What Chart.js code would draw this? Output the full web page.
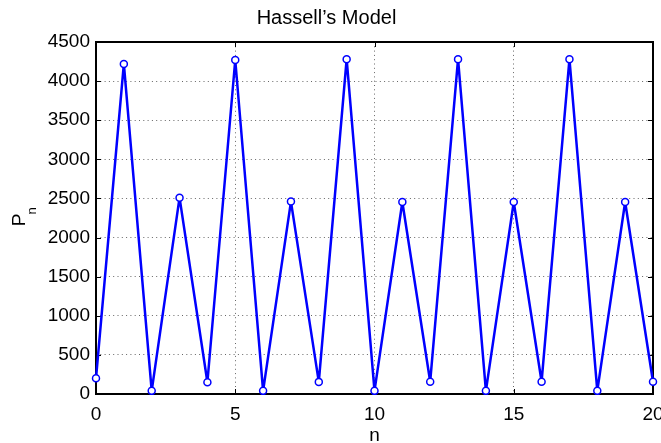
<!DOCTYPE html>
<html>
<head>
<meta charset="utf-8">
<script src="https://cdn.jsdelivr.net/npm/chart.js@4/dist/chart.umd.min.js"></script>
<style>
  html, body { margin: 0; padding: 0; background: #fff; }
  #hassell { display: block; }
</style>
</head>
<body>
<canvas id="hassell" width="661" height="443"></canvas>
<script>
const steps = [0, 1, 2, 3, 4, 5, 6, 7, 8, 9, 10, 11, 12, 13, 14, 15, 16, 17, 18, 19, 20];
const population = [200, 4220, 40, 2510, 150, 4270, 40, 2460, 155, 4280, 40, 2455, 157, 4280, 40, 2455, 157, 4280, 40, 2455, 157];
const xTicks = [0, 5, 10, 15, 20];
const yTicks = [0, 500, 1000, 1500, 2000, 2500, 3000, 3500, 4000, 4500];

const FONT = 'Liberation Sans, Arial, Helvetica, sans-serif';

// box round the axes, ticks pointing in on all four sides, and the P_n label
const axesBox = {
  id: 'axesBox',
  beforeDatasetsDraw(chart) {
    const { ctx, chartArea: a, scales: { x, y } } = chart;
    ctx.save();
    ctx.strokeStyle = '#000';
    ctx.lineWidth = 1;
    ctx.beginPath();
    xTicks.forEach(v => {
      const px = Math.round(x.getPixelForValue(v)) + 0.5;
      ctx.moveTo(px, a.bottom); ctx.lineTo(px, a.bottom - 5);
      ctx.moveTo(px, a.top); ctx.lineTo(px, a.top + 5);
    });
    yTicks.forEach(v => {
      const py = Math.round(y.getPixelForValue(v)) + 0.5;
      ctx.moveTo(a.left, py); ctx.lineTo(a.left + 5, py);
      ctx.moveTo(a.right, py); ctx.lineTo(a.right - 5, py);
    });
    ctx.stroke();
    ctx.lineWidth = 2;
    ctx.strokeRect(a.left, a.top, a.right - a.left, a.bottom - a.top);

    ctx.translate(18, 220);
    ctx.rotate(-Math.PI / 2);
    ctx.fillStyle = '#000';
    ctx.textAlign = 'center';
    ctx.textBaseline = 'alphabetic';
    ctx.font = '19px ' + FONT;
    ctx.fillText('P', 0, 7);
    ctx.font = '13px ' + FONT;
    ctx.fillText('n', 9, 17.5);
    ctx.restore();
  }
};

const config = {
  type: 'line',
  data: {
    labels: steps,
    datasets: [{
      data: steps.map((n, i) => ({ x: n, y: population[i] })),
      borderColor: 'rgb(0, 0, 255)',
      borderWidth: 2.5,
      borderJoinStyle: 'round',
      pointRadius: 3.5,
      pointBorderWidth: 1.5,
      pointBackgroundColor: '#fff',
      pointBorderColor: 'rgb(0, 0, 255)',
      tension: 0,
      clip: false,
    }],
  },
  options: {
    responsive: false,
    animation: false,
    layout: { padding: { left: 0, right: 8, top: 0, bottom: 0 } },
    plugins: {
      legend: { display: false },
      tooltip: { enabled: false },
      title: {
        display: true,
        text: 'Hassell\u2019s Model',
        color: '#000',
        font: { family: FONT, size: 20, weight: 'normal' },
        padding: { top: 6, bottom: 12 },
      },
    },
    scales: {
      x: {
        type: 'linear',
        min: 0,
        max: 20,
        afterBuildTicks: s => { s.ticks = xTicks.map(v => ({ value: v })); },
        afterFit: s => { s.height = 49; s.paddingLeft = 0; s.paddingRight = 0; },
        ticks: { color: '#000', padding: 9, maxRotation: 0, font: { family: FONT, size: 19 }, callback: v => String(v) },
        grid: { color: '#666', lineWidth: 1, drawTicks: false },
        border: { display: false, dash: [1, 3.3] },
        title: {
          display: true,
          text: 'n',
          color: '#000',
          font: { family: FONT, size: 19 },
          padding: { top: 0, bottom: -4 },
        },
      },
      y: {
        min: 0,
        max: 4500,
        afterBuildTicks: s => { s.ticks = yTicks.map(v => ({ value: v })); },
        afterFit: s => { s.width = 96; s.paddingTop = 0; s.paddingBottom = 0; },
        ticks: { color: '#000', padding: 6, font: { family: FONT, size: 19 }, callback: v => String(v) },
        grid: { color: '#666', lineWidth: 1, drawTicks: false },
        border: { display: false, dash: [1, 3.3] },
      },
    },
  },
  plugins: [axesBox],
};

new Chart(document.getElementById('hassell'), config);
</script>
</body>
</html>
